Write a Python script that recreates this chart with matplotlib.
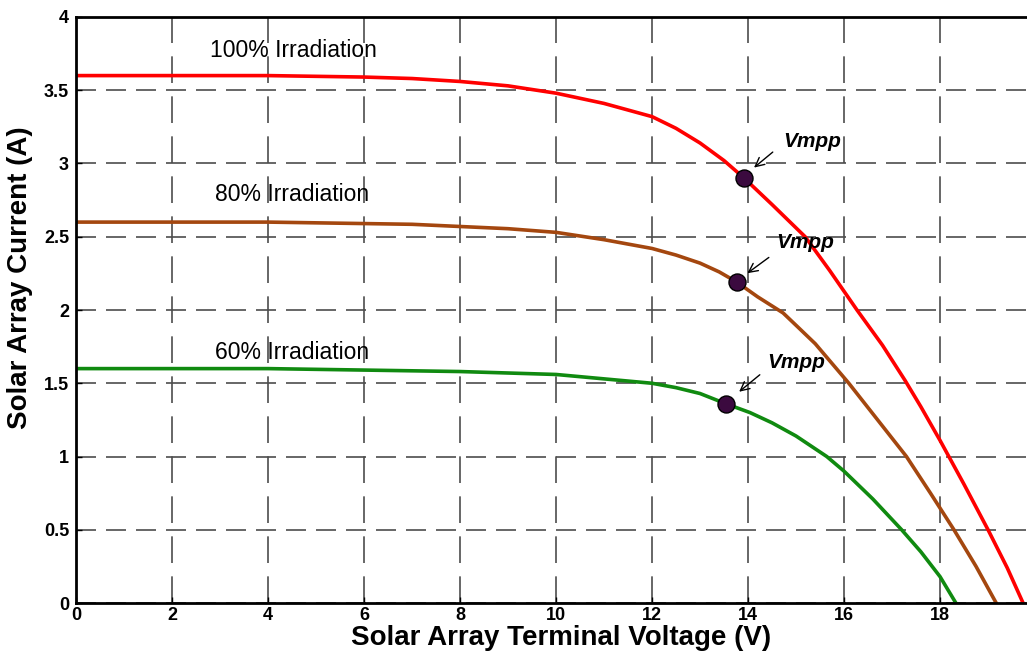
import matplotlib
matplotlib.use("Agg")
import matplotlib.pyplot as plt

plt.rcParams['font.family'] = ['Liberation Sans', 'DejaVu Sans']

v_100 = [0, 2, 4, 6, 7, 8, 9, 10, 11, 12, 12.5, 13, 13.5, 13.92, 14.5, 15.19, 15.7,
         16.27, 16.8, 17.27, 17.6, 18.0, 18.5, 19.0, 19.4, 19.73]
i_100 = [3.60, 3.60, 3.60, 3.59, 3.58, 3.56, 3.53, 3.48, 3.41, 3.32, 3.24, 3.14, 3.02,
         2.90, 2.72, 2.50, 2.27, 2.00, 1.76, 1.52, 1.34, 1.11, 0.81, 0.50, 0.24, 0]

v_80 = [0, 2, 4, 6, 7, 8, 9, 10, 11, 12, 12.5, 13, 13.4, 13.77, 14.2, 14.73, 15.05,
        15.4, 16.1, 16.7, 17.3, 17.8, 18.29, 18.75, 19.17]
i_80 = [2.60, 2.60, 2.60, 2.59, 2.585, 2.57, 2.555, 2.53, 2.48, 2.42, 2.375, 2.32, 2.26,
        2.19, 2.09, 1.98, 1.88, 1.77, 1.5, 1.25, 1.0, 0.75, 0.5, 0.25, 0]

v_60 = [0, 2, 4, 6, 7, 8, 9, 10, 11, 12, 12.5, 13, 13.54, 14.04, 14.5, 15, 15.64, 16,
        16.6, 17.2, 17.6, 18, 18.33]
i_60 = [1.60, 1.60, 1.60, 1.59, 1.585, 1.58, 1.57, 1.56, 1.53, 1.50, 1.47, 1.43, 1.36,
        1.30, 1.23, 1.14, 1.0, 0.90, 0.71, 0.50, 0.35, 0.18, 0]

# maximum power points
mpp_v = [13.92, 13.77, 13.54]
mpp_i = [2.90, 2.19, 1.36]

labels = ['100% Irradiation', '80% Irradiation', '60% Irradiation']
label_pos = [(2.8, 3.77), (2.9, 2.79), (2.9, 1.71)]

x_ticks = [0, 2, 4, 6, 8, 10, 12, 14, 16, 18]
y_ticks = [0, 0.5, 1, 1.5, 2, 2.5, 3, 3.5, 4]
y_ticklabels = ['0', '0.5', '1', '1.5', '2', '2.5', '3', '3.5', '4']

fig = plt.figure(figsize=(10.27, 6.51), dpi=100)
ax = fig.add_axes([0.074, 0.0737, 0.9348, 0.9002])

ax.plot(v_100, i_100, color='#ff0000', lw=2.6, solid_joinstyle='round')
ax.plot(v_80, i_80, color='#a4470f', lw=2.6, solid_joinstyle='round')
ax.plot(v_60, i_60, color='#108a10', lw=2.6, solid_joinstyle='round')

ax.scatter(mpp_v, mpp_i, s=150, color='#3b0a3f', edgecolor='black', lw=1, zorder=5)

for txt, (x, y) in zip(labels, label_pos):
    ax.text(x, y, txt, fontsize=16.5, ha='left', va='center')

# Vmpp annotations
vm_text = [(14.73, 3.15), (14.58, 2.46), (14.4, 1.64)]
vm_tip = [(14.08, 2.96), (13.94, 2.24), (13.77, 1.43)]
vm_tail = [(14.56, 3.09), (14.48, 2.37), (14.29, 1.57)]
for (tx, ty), tip, tail in zip(vm_text, vm_tip, vm_tail):
    ax.text(tx, ty, 'Vmpp', fontsize=15, fontweight='bold', fontstyle='italic',
            ha='left', va='center')
    ax.annotate('', xy=tip, xytext=tail,
                arrowprops=dict(arrowstyle='->', color='black', lw=1, mutation_scale=16))

ax.set_xlim(0, 20)
ax.set_ylim(0, 4)
ax.set_xticks(x_ticks)
ax.set_yticks(y_ticks)
ax.set_yticklabels(y_ticklabels)
ax.tick_params(direction='in', length=4, width=1, labelsize=13)
ax.tick_params(axis='x', pad=3)
ax.tick_params(axis='y', pad=5)
for lbl in ax.get_xticklabels() + ax.get_yticklabels():
    lbl.set_fontweight('bold')

ax.xaxis.grid(True, color='0.3', lw=1.2, linestyle=(0, (16, 8)))
ax.yaxis.grid(True, color='0.3', lw=1.2, linestyle=(0, (12, 6)))
ax.set_axisbelow(True)

for side in ['left', 'bottom', 'top']:
    ax.spines[side].set_linewidth(2)
ax.spines['right'].set_visible(False)

ax.set_xlabel('Solar Array Terminal Voltage (V)', fontsize=20, fontweight='bold')
ax.xaxis.set_label_coords(0.505, -0.037)
ax.set_ylabel('Solar Array Current (A)', fontsize=20, fontweight='bold')
ax.yaxis.set_label_coords(-0.045, 0.555)

fig.savefig('out.png', dpi=100)
